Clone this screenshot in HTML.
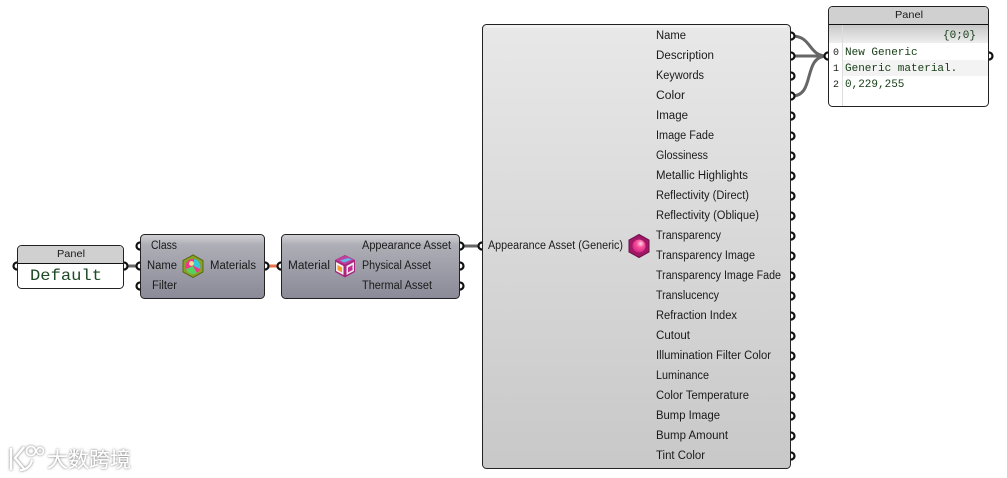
<!DOCTYPE html>
<html><head><meta charset="utf-8"><style>
html,body{margin:0;padding:0;background:#fff;width:1007px;height:478px;overflow:hidden}
svg{display:block}
.t{font:11.500px "Liberation Sans",sans-serif;fill:#1a1a1a}
.m{font:11px "Liberation Mono",monospace;fill:#143c14}
.p{fill:#fff;stroke:#111;stroke-width:2.200}
.n{stroke:#222;stroke-width:1}
</style></head><body>
<svg width="1007" height="478" viewBox="0 0 1007 478" xmlns="http://www.w3.org/2000/svg">
<defs>
<linearGradient id="g1" x1="0" y1="0" x2="0" y2="1"><stop offset="0" stop-color="#e8e8e8"/><stop offset="1" stop-color="#c8c8c8"/></linearGradient>
<linearGradient id="g2" x1="0" y1="0" x2="0" y2="1"><stop offset="0" stop-color="#d2d2d6"/><stop offset=".16" stop-color="#aeaeb6"/><stop offset="1" stop-color="#8a8a98"/></linearGradient>
<linearGradient id="g3" x1="0" y1="0" x2="0" y2="1"><stop offset="0" stop-color="#c8c8c8"/><stop offset="1" stop-color="#eee"/></linearGradient>
<radialGradient id="ball" cx=".62" cy=".32" r=".75"><stop offset="0" stop-color="#ffd8e6"/><stop offset=".4" stop-color="#f8509a"/><stop offset="1" stop-color="#d02080"/></radialGradient>
<filter id="sh" x="-10%" y="-30%" width="120%" height="160%"><feDropShadow dx="0" dy="0" stdDeviation="1.300" flood-color="#666" flood-opacity="1"/></filter>
</defs>

<!-- wires -->
<g fill="none" stroke-width="3">
<path d="M126 266H138" stroke="#666"/>
<path d="M267 266H280" stroke="#e8734a"/>
<path d="M462 246H480" stroke="#666"/>
<path d="M792 36C812 36 808 56 827 56" stroke="#666"/>
<path d="M792 56H827" stroke="#666"/>
<path d="M792 96C816 96 802 56 827 56" stroke="#666"/>
</g>

<!-- ports -->
<g class="p">
<circle cx="17" cy="266" r="3.500"/><circle cx="124" cy="266" r="3.500"/>
<circle cx="140" cy="246" r="3.500"/><circle cx="140" cy="266" r="3.500"/><circle cx="140" cy="286" r="3.500"/>
<circle cx="265" cy="266" r="3.500"/><circle cx="281" cy="266" r="3.500"/>
<circle cx="460" cy="246" r="3.500"/><circle cx="460" cy="266" r="3.500"/><circle cx="460" cy="286" r="3.500"/>
<circle cx="482" cy="246" r="3.500"/>
<circle cx="791" cy="36" r="3.500"/><circle cx="791" cy="56" r="3.500"/><circle cx="791" cy="76" r="3.500"/><circle cx="791" cy="96" r="3.500"/><circle cx="791" cy="116" r="3.500"/><circle cx="791" cy="136" r="3.500"/><circle cx="791" cy="156" r="3.500"/><circle cx="791" cy="176" r="3.500"/><circle cx="791" cy="196" r="3.500"/><circle cx="791" cy="216" r="3.500"/><circle cx="791" cy="236" r="3.500"/><circle cx="791" cy="256" r="3.500"/><circle cx="791" cy="276" r="3.500"/><circle cx="791" cy="296" r="3.500"/><circle cx="791" cy="316" r="3.500"/><circle cx="791" cy="336" r="3.500"/><circle cx="791" cy="356" r="3.500"/><circle cx="791" cy="376" r="3.500"/><circle cx="791" cy="396" r="3.500"/><circle cx="791" cy="416" r="3.500"/><circle cx="791" cy="436" r="3.500"/><circle cx="791" cy="456" r="3.500"/>
<circle cx="828" cy="56" r="3.500"/><circle cx="989" cy="56" r="3.500"/>
</g>

<!-- left panel -->
<rect x="17.500" y="245.500" width="106" height="43" rx="4" fill="#fff" class="n"/>
<path d="M18 263V249.500a3.500 3.500 0 0 1 3.500-3.500H119.500a3.500 3.500 0 0 1 3.500 3.500V263Z" fill="#d0d0d0"/>
<path d="M18 263.500H123" stroke="#111" stroke-width="1"/>
<text class="t" x="57" y="257" textLength="28" lengthAdjust="spacingAndGlyphs" style="font-size:10.500px">Panel</text>
<text x="30" y="280" textLength="72" lengthAdjust="spacingAndGlyphs" style="font:16px 'Liberation Mono',monospace;fill:#1c4a24">Default</text>

<!-- materials node -->
<rect x="140.500" y="234.500" width="124" height="64" rx="4" fill="url(#g2)" class="n"/>
<text class="t" x="151" y="249" textLength="26" lengthAdjust="spacingAndGlyphs">Class</text>
<text class="t" x="147" y="269" textLength="30" lengthAdjust="spacingAndGlyphs">Name</text>
<text class="t" x="152" y="289" textLength="25" lengthAdjust="spacingAndGlyphs">Filter</text>
<text class="t" x="210" y="269" textLength="46" lengthAdjust="spacingAndGlyphs">Materials</text>
<path d="M193 255l10 5.500v11.500l-10 5.500-10-5.500v-11.500Z" fill="#8aa024" stroke="#566c14" stroke-width="1"/>
<circle cx="193" cy="266.500" r="7.500" fill="#f0358c"/>
<path d="M194 259a7.500 7.500 0 0 1 6 10l-6-3Z" fill="#35c8d8"/>
<path d="M186 269a7.500 7.500 0 0 0 11 4l-4-7Z" fill="#58d060"/>
<circle cx="191.500" cy="263.500" r="2.500" fill="#f8d890"/>

<!-- asset node -->
<rect x="281.500" y="234.500" width="178" height="64" rx="4" fill="url(#g2)" class="n"/>
<text class="t" x="288" y="269" textLength="42" lengthAdjust="spacingAndGlyphs">Material</text>
<text class="t" x="362" y="249" textLength="89" lengthAdjust="spacingAndGlyphs">Appearance Asset</text>
<text class="t" x="362" y="269" textLength="69" lengthAdjust="spacingAndGlyphs">Physical Asset</text>
<text class="t" x="362" y="289" textLength="70" lengthAdjust="spacingAndGlyphs">Thermal Asset</text>
<path d="M345 255l10 5v12l-10 5.500-10-5.500v-12Z" fill="#a8267c"/>
<path d="M345 255.500l9 4.500-9 4.500-9-4.500Z" fill="#c040a0"/>
<path d="M340 260.500l8-2.500 4 1.500-8 3Z" fill="#5fb8e8"/>
<path d="M336 262l7.500 4v9l-7.500-4Z" fill="#f4f0f0"/>
<path d="M354 262l-7.500 4v9l7.500-4Z" fill="#f0e8f0"/>
<path d="M337.500 265l4.500 2.500v5l-4.500-2.500Z" fill="#f59a2e"/>
<path d="M352.500 265l-4.500 2.500v5l4.500-2.500Z" fill="#c02c90"/>

<!-- big node -->
<rect x="482.500" y="24.500" width="308" height="444" rx="4" fill="url(#g1)" class="n"/>
<path d="M486 26.500H787" stroke="#f6f6f6" stroke-width="2.500" opacity=".8"/>
<text class="t" x="488" y="249" textLength="135" lengthAdjust="spacingAndGlyphs">Appearance Asset (Generic)</text>
<path d="M639 234.500l10 5.500v12l-10 5.500-10-5.500v-12Z" fill="#a01866" stroke="#6e0f48" stroke-width="1"/>
<circle cx="639" cy="246" r="6.500" fill="url(#ball)"/>
<g class="t">
<text x="656" y="39" textLength="30" lengthAdjust="spacingAndGlyphs">Name</text>
<text x="656" y="59" textLength="58" lengthAdjust="spacingAndGlyphs">Description</text>
<text x="656" y="79" textLength="48" lengthAdjust="spacingAndGlyphs">Keywords</text>
<text x="656" y="99" textLength="29" lengthAdjust="spacingAndGlyphs">Color</text>
<text x="656" y="119" textLength="32" lengthAdjust="spacingAndGlyphs">Image</text>
<text x="656" y="139" textLength="58" lengthAdjust="spacingAndGlyphs">Image Fade</text>
<text x="656" y="159" textLength="52" lengthAdjust="spacingAndGlyphs">Glossiness</text>
<text x="656" y="179" textLength="92" lengthAdjust="spacingAndGlyphs">Metallic Highlights</text>
<text x="656" y="199" textLength="93" lengthAdjust="spacingAndGlyphs">Reflectivity (Direct)</text>
<text x="656" y="219" textLength="103" lengthAdjust="spacingAndGlyphs">Reflectivity (Oblique)</text>
<text x="656" y="239" textLength="65" lengthAdjust="spacingAndGlyphs">Transparency</text>
<text x="656" y="259" textLength="99" lengthAdjust="spacingAndGlyphs">Transparency Image</text>
<text x="656" y="279" textLength="125" lengthAdjust="spacingAndGlyphs">Transparency Image Fade</text>
<text x="656" y="299" textLength="63" lengthAdjust="spacingAndGlyphs">Translucency</text>
<text x="656" y="319" textLength="81" lengthAdjust="spacingAndGlyphs">Refraction Index</text>
<text x="656" y="339" textLength="34" lengthAdjust="spacingAndGlyphs">Cutout</text>
<text x="656" y="359" textLength="115" lengthAdjust="spacingAndGlyphs">Illumination Filter Color</text>
<text x="656" y="379" textLength="53" lengthAdjust="spacingAndGlyphs">Luminance</text>
<text x="656" y="399" textLength="93" lengthAdjust="spacingAndGlyphs">Color Temperature</text>
<text x="656" y="419" textLength="64" lengthAdjust="spacingAndGlyphs">Bump Image</text>
<text x="656" y="439" textLength="72" lengthAdjust="spacingAndGlyphs">Bump Amount</text>
<text x="656" y="459" textLength="49" lengthAdjust="spacingAndGlyphs">Tint Color</text>
</g>

<!-- top panel -->
<rect x="828.500" y="6.500" width="160" height="100" rx="4" fill="#fff" class="n"/>
<path d="M829 24V10.500a3.500 3.500 0 0 1 3.500-3.500H984.500a3.500 3.500 0 0 1 3.500 3.500V24Z" fill="#d0d0d0"/>
<rect x="829" y="25" width="159" height="18" fill="url(#g3)"/>
<path d="M829 24.500H988" stroke="#111" stroke-width="1"/>
<rect x="843" y="60" width="145" height="16" fill="#f3f3f3"/>
<path d="M842.500 25V106" stroke="#ddd" stroke-width="1"/>
<text class="t" x="895" y="18" textLength="28" lengthAdjust="spacingAndGlyphs" style="font-size:10.500px">Panel</text>
<text class="m" x="943" y="38">{0;0}</text>
<text class="m" x="833" y="55" style="fill:#222;font-size:10px">0</text>
<text class="m" x="845" y="55">New Generic</text>
<text class="m" x="833" y="71" style="fill:#222;font-size:10px">1</text>
<text class="m" x="845" y="71">Generic material.</text>
<text class="m" x="833" y="87" style="fill:#222;font-size:10px">2</text>
<text class="m" x="845" y="87">0,229,255</text>

<!-- watermark -->
<g filter="url(#sh)">
<path d="M11 448V470M24 447L15 458L25 470" fill="none" stroke="#fff" stroke-width="2.200"/>
<path d="M20 470A12 12 0 0 0 32 460" fill="none" stroke="#fff" stroke-width="2"/>
<circle cx="31" cy="451" r="4.500" fill="none" stroke="#fff" stroke-width="1.600"/>
<circle cx="40" cy="451" r="3.500" fill="none" stroke="#fff" stroke-width="1.500"/>
<text x="47" y="467" style="font:21px 'Noto Sans CJK SC',sans-serif;fill:#fff">大数跨境</text>
</g>
</svg>
</body></html>
